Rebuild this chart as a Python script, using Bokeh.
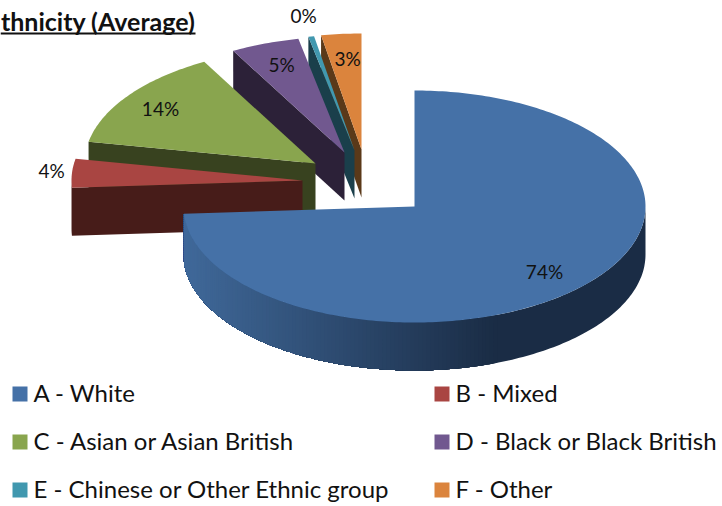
import math
from bokeh.core.properties import value
from bokeh.embed import file_html
from bokeh.plotting import figure
from bokeh.resources import INLINE

# Ethnicity shares, percent
categories = ["A - White", "B - Mixed", "C - Asian or Asian British",
              "D - Black or Black British", "E - Chinese or Other Ethnic group", "F - Other"]
shares = [74.0, 4.0, 14.0, 4.8, 0.4, 2.8]
top_colors = ["#4571a7", "#a94542", "#89a54e", "#71588f", "#4198af", "#db843d"]
side_colors = ["#1a2c45", "#471c19", "#38421f", "#2c2138", "#1a3f4b", "#5a3919"]

# Pull-out of each slice: the screen position of its tip
slice_tips = [(414, 206), (302, 180), (315, 163), (344, 152), (354, 150), (361, 149)]
label_spots = [(544, 271), (51, 170), (160, 108), (281, 64), (303, 15), (347, 58)]
legend_spots = [(12, 394), (434, 394), (12, 442), (434, 442), (12, 490), (434, 490)]

RX, RY, DEPTH = 231, 116, 48
FONT = value("Lato")

p = figure(width=722, height=506, x_range=(0, 722), y_range=(506, 0),
           x_axis_type=None, y_axis_type=None, toolbar_location=None,
           output_backend="svg", min_border=0, outline_line_color=None,
           background_fill_color="white", border_fill_color="white")
p.grid.visible = False


def rim_point(tip, deg):
    t = math.radians(deg)
    return tip[0] + RX * math.sin(t), tip[1] - RY * math.cos(t)


def arc(tip, a, b):
    n = max(2, int(abs(b - a)) + 2)
    return [rim_point(tip, a + (b - a) * i / (n - 1)) for i in range(n)]


def blend(c0, c1, f):
    a = [int(c0[i:i + 2], 16) for i in (1, 3, 5)]
    b = [int(c1[i:i + 2], 16) for i in (1, 3, 5)]
    return "#%02x%02x%02x" % tuple(round(u + (v - u) * f) for u, v in zip(a, b))


def rim_shade(x, side):
    # The large slice's wall lightens towards the left of the pie
    if x >= 497:
        return side
    return blend(side, "#40699a", (497 - x) / (497 - 183))


def add(polys, pts, color):
    polys.append(([q[0] for q in pts], [q[1] for q in pts], color))


def wall(tip, u, v):
    upper = [rim_point(tip, u)]
    d = math.floor(u) + 1
    while d < v:
        upper.append(rim_point(tip, d))
        d += 1
    upper.append(rim_point(tip, v))
    return upper + [(q[0], q[1] + DEPTH) for q in reversed(upper)]


polys = []
starts, acc = [], 0.0
for s in shares:
    starts.append(acc * 3.6)
    acc += s

# Slices are painted back to front so the large slice ends up on top
for i in range(len(shares) - 1, -1, -1):
    tip, a, b = slice_tips[i], starts[i], starts[i] + shares[i] * 3.6

    # Cut face along the starting edge
    if 180 < a < 360:
        edge = rim_point(tip, a)
        add(polys, [tip, edge, (edge[0], edge[1] + DEPTH), (tip[0], tip[1] + DEPTH)], side_colors[i])

    # Curved outer wall, only the part that faces the viewer
    lo, hi = max(a, 90), min(b, 270)
    if hi > lo:
        add(polys, wall(tip, lo, hi), side_colors[i])
        if i == 0:
            # Nested walls sharing one outline give a shaded band without seams
            u = lo + 1
            while u < hi:
                x = rim_point(tip, u)[0]
                if x < 497:
                    add(polys, wall(tip, u, hi), rim_shade(x, side_colors[i]))
                u += 1

    # Top surface
    add(polys, [tip] + arc(tip, a, b), top_colors[i])

p.patches([q[0] for q in polys], [q[1] for q in polys], fill_color=[q[2] for q in polys],
          line_color=None)

# Percentage labels
p.text([q[0] for q in label_spots], [q[1] for q in label_spots],
       text=[f"{round(s)}%" for s in shares], text_font=FONT, text_font_size="19px",
       text_color="#111111", text_align="center", text_baseline="middle")

# Title, running off the left edge of the page
p.text([195], [20], text=["thnicity (Average)"], text_font=FONT, text_font_size="25px",
       text_font_style="bold", text_color="#111111", text_align="right", text_baseline="middle")
p.segment([0], [33], [195], [33], line_color="#111111", line_width=2)

# Legend
p.quad(left=[q[0] for q in legend_spots], right=[q[0] + 15 for q in legend_spots],
       top=[q[1] - 8 for q in legend_spots], bottom=[q[1] + 7 for q in legend_spots],
       fill_color=top_colors, line_color=None)
p.text([q[0] + 21 for q in legend_spots], [q[1] - 2 for q in legend_spots], text=categories,
       text_font=FONT, text_font_size="24px", text_color="#111111",
       text_align="left", text_baseline="middle")

open("out.html", "w").write(file_html(p, INLINE))
